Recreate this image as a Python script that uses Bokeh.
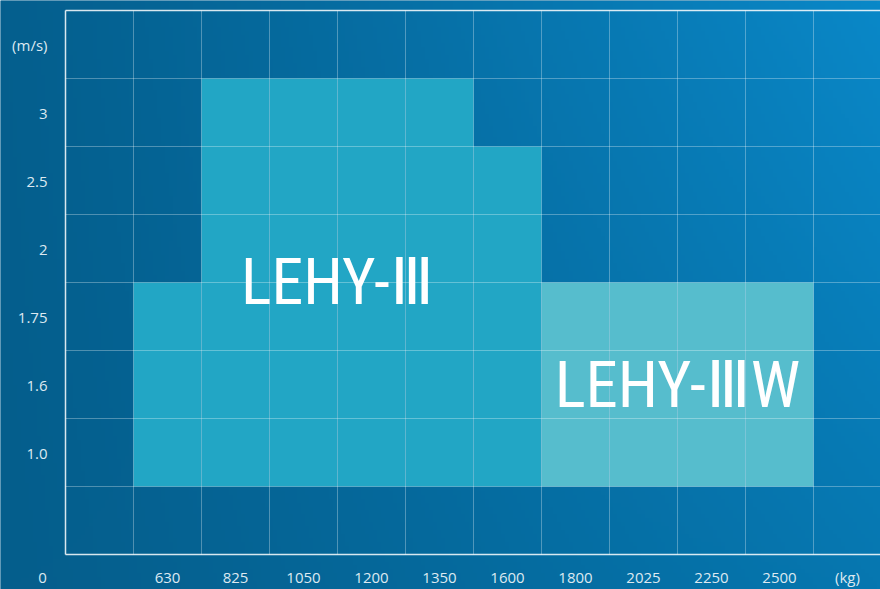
import numpy as np
from bokeh.plotting import figure
from bokeh.models import FixedTicker, LinearAxis, ColumnDataSource
from bokeh.core.properties import value
from bokeh.embed import file_html
from bokeh.resources import INLINE

# ---- data ----
weights = ["630", "825", "1050", "1200", "1350", "1600", "1800", "2025", "2250", "2500"]
speeds = ["1.0", "1.6", "1.75", "2", "2.5", "3"]
x_unit = "(kg)"
y_unit = "(m/s)"
origin_label = "0"

lehy3_weights = ["630", "825", "1050", "1200", "1350", "1600"]
lehy3_max_speed = ["1.75", "3", "3", "3", "3", "2.5"]
lehy3_min_speed = "1.0"
lehy3_name = "LEHY-Ⅲ"

lehy3w_weights = ["1800", "2025", "2250", "2500"]
lehy3w_max_speed = ["1.75", "1.75", "1.75", "1.75"]
lehy3w_min_speed = "1.0"
lehy3w_name = "LEHY-ⅢW"

# ---- layout (pixels) ----
W, H = 880, 589
CELL = 68
LEFT, TOP, BOTTOM = 65, 10, 35        # space round the grid

n_cols = len(weights) + 2            # blank column + weights + unit column
n_rows = len(speeds) + 2             # blank row + speeds + unit row

x0 = -LEFT / CELL
x1 = (W - LEFT) / CELL
y0 = -BOTTOM / CELL
y1 = n_rows + TOP / CELL

# positions: column 0 blank, weights from 1; row 0 blank, speeds from 1
xpos = {w: i + 1 for i, w in enumerate(weights)}
ypos = {s: i + 1 for i, s in enumerate(speeds)}

p = figure(width=W, height=H, output_backend="svg", toolbar_location=None,
           x_range=(x0, x1), y_range=(y0, y1),
           min_border=0, min_border_left=0, min_border_right=0,
           min_border_top=0, min_border_bottom=0)
p.border_fill_color = "#05608f"
p.background_fill_color = "#05608f"
p.outline_line_color = None
p.xgrid.visible = False
p.ygrid.visible = False

# decorative background gradient (bilinear between corner colours)
def hex2rgb(h):
    return np.array([int(h[i:i + 2], 16) for i in (1, 3, 5)], dtype=float)

TL, TR, BL_, BR = hex2rgb("#045f8e"), hex2rgb("#0a88c8"), hex2rgb("#055e8c"), hex2rgb("#0677b0")
gx = np.linspace(0, 1, 220)
gy = np.linspace(0, 1, 150)
GX, GY = np.meshgrid(gx, gy)        # GY = 0 at bottom row of the image
ex = GX ** 1.15
img = np.empty(GX.shape, dtype=np.uint32)
view = img.view(dtype=np.uint8).reshape(GX.shape + (4,))
for k in range(3):
    bottom_c = BL_[k] + (BR[k] - BL_[k]) * ex
    top_c = TL[k] + (TR[k] - TL[k]) * ex
    view[..., k] = np.clip(bottom_c + (top_c - bottom_c) * GY, 0, 255).astype(np.uint8)
view[..., 3] = 255
p.image_rgba(image=[img], x=x0, y=y0, dw=x1 - x0, dh=y1 - y0, level="image")

# regions
def region_source(ws, tops, bottom):
    xs = [xpos[w] + 0.5 for w in ws]
    top = [ypos[s] + 1 for s in tops]
    bot = [ypos[bottom]] * len(ws)
    return ColumnDataSource(dict(x=xs, top=top, bottom=bot))

src3 = region_source(lehy3_weights, lehy3_max_speed, lehy3_min_speed)
src3w = region_source(lehy3w_weights, lehy3w_max_speed, lehy3w_min_speed)
p.vbar(x="x", top="top", bottom="bottom", width=1.0, source=src3,
       fill_color="#22a6c5", line_color=None)
p.vbar(x="x", top="top", bottom="bottom", width=1.0, source=src3w,
       fill_color="#56bdcd", line_color=None)

# cell grid (inner boundaries)
vx = list(range(1, n_cols))
hy = list(range(1, n_rows))
p.segment(x0=vx, y0=[0] * len(vx), x1=vx, y1=[n_rows] * len(vx),
          line_color="white", line_alpha=0.3, line_width=1)
p.segment(x0=[0] * len(hy), y0=hy, x1=[n_cols] * len(hy), y1=hy,
          line_color="white", line_alpha=0.3, line_width=1)

# region names at the centre of each region's bounding box
def bbox_center(ws, tops, bottom):
    xs = [xpos[w] for w in ws]
    cx = (min(xs) + max(xs) + 1) / 2
    cy = (ypos[bottom] + max(ypos[s] for s in tops) + 1) / 2
    return cx, cy

name_font = value("Roboto Condensed")
for ws, tops, bottom, name, size in [
        (lehy3_weights, lehy3_max_speed, lehy3_min_speed, lehy3_name, "64px"),
        (lehy3w_weights, lehy3w_max_speed, lehy3w_min_speed, lehy3w_name, "65px")]:
    cx, cy = bbox_center(ws, tops, bottom)
    r = p.text(x=[cx], y=[cy], text=[name], text_color="white",
               text_font=name_font, text_font_size=size,
               text_align="center", text_baseline="middle")
    r.level = "overlay"

# axes at the grid's edges, labels at cell centres
x_axis = p.below[0]
y_axis = p.left[0]
top_axis = LinearAxis(ticker=FixedTicker(ticks=[]), fixed_location=n_rows,
                      bounds=(0, n_cols), major_label_text_font_size="0px")
p.add_layout(top_axis, "above")

x_labels = weights + [x_unit]
y_labels = speeds + [y_unit]
xt = [i + 1.5 for i in range(len(x_labels))]
yt = [i + 1.5 for i in range(len(y_labels))]
x_axis.ticker = FixedTicker(ticks=xt)
y_axis.ticker = FixedTicker(ticks=yt)
x_axis.major_label_overrides = {t_: l for t_, l in zip(xt, x_labels)}
y_axis.major_label_overrides = {t_: l for t_, l in zip(yt, y_labels)}
x_axis.fixed_location = 0
y_axis.fixed_location = 0
x_axis.bounds = (0, n_cols)
y_axis.bounds = (0, n_rows)

label_color = "#dde9f1"
for ax in (x_axis, y_axis, top_axis):
    ax.axis_line_color = "white"
    ax.axis_line_width = 1.5
    ax.axis_line_alpha = 0.85
    ax.major_tick_line_color = None
    ax.minor_tick_line_color = None
    ax.major_tick_out = 0
    ax.major_tick_in = 0
    ax.minor_tick_out = 0
    ax.major_label_text_color = label_color
    ax.major_label_text_font = "Open Sans"
    ax.major_label_text_font_size = "15px"
top_axis.major_label_text_font_size = "0px"
x_axis.major_label_standoff = 12
y_axis.major_label_standoff = 18

# origin label, diagonally outside the corner
r0 = p.text(x=[0], y=[0], text=[origin_label], x_offset=-23, y_offset=23,
            text_color=label_color, text_font=value("Open Sans"), text_font_size="15px",
            text_align="center", text_baseline="middle")
r0.level = "overlay"

open("out.html", "w").write(file_html(p, INLINE))
